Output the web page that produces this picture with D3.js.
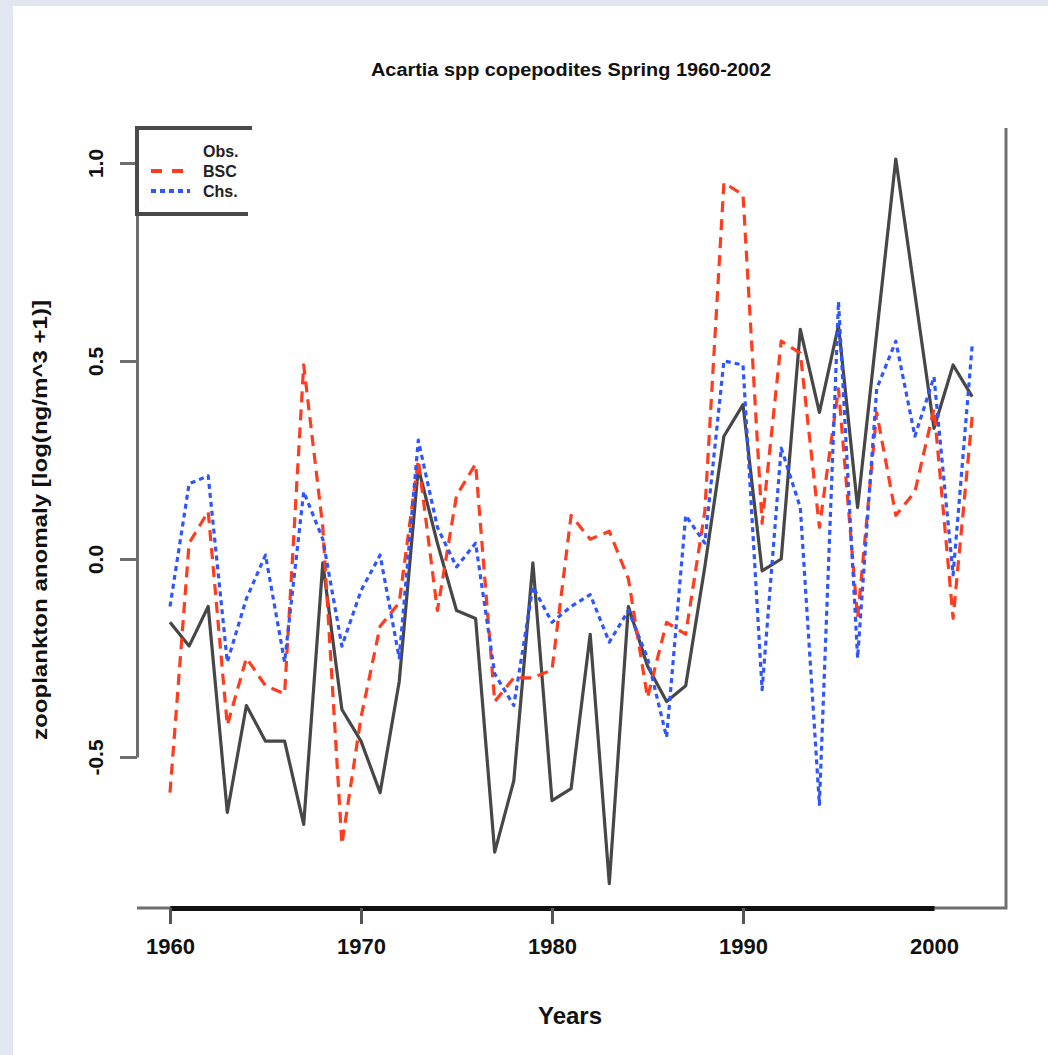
<!DOCTYPE html>
<meta charset="utf-8">
<script src="https://d3js.org/d3.v7.min.js"></script>
<style>
  body { margin: 0; background: #e2e6f0; }
  text { font-family: "Liberation Sans", Arial, sans-serif; font-weight: bold; }
</style>
<div id="my_dataviz"></div>
<script>

// years and the three anomaly series
var years = [1960, 1961, 1962, 1963, 1964, 1965, 1966, 1967, 1968, 1969,
             1970, 1971, 1972, 1973, 1974, 1975, 1976, 1977, 1978, 1979,
             1980, 1981, 1982, 1983, 1984, 1985, 1986, 1987, 1988, 1989,
             1990, 1991, 1992, 1993, 1994, 1995, 1996, 1997, 1998, 1999,
             2000, 2001, 2002];

var obs = [-0.16, -0.22, -0.12, -0.64, -0.37, -0.46, -0.46, -0.67, -0.01, -0.38,
           -0.46, -0.59, -0.31, 0.23, 0.04, -0.13, -0.15, -0.74, -0.56, -0.01,
           -0.61, -0.58, -0.19, -0.82, -0.12, -0.27, -0.36, -0.32, -0.02, 0.31,
           0.39, -0.03, 0.00, 0.58, 0.37, 0.59, 0.13, 0.57, 1.01, 0.67,
           0.33, 0.49, 0.41];

var bsc = [-0.59, 0.04, 0.12, -0.42, -0.25, -0.32, -0.34, 0.49, 0.08, -0.72,
           -0.40, -0.17, -0.11, 0.25, -0.13, 0.16, 0.24, -0.36, -0.30, -0.30,
           -0.28, 0.11, 0.05, 0.07, -0.05, -0.35, -0.16, -0.19, 0.12, 0.95,
           0.92, 0.09, 0.55, 0.52, 0.08, 0.43, -0.15, 0.37, 0.11, 0.17,
           0.38, -0.15, 0.36];

var chs = [-0.12, 0.19, 0.21, -0.26, -0.10, 0.01, -0.26, 0.17, 0.05, -0.22,
           -0.08, 0.01, -0.25, 0.30, 0.08, -0.02, 0.04, -0.29, -0.37, -0.07,
           -0.16, -0.12, -0.09, -0.21, -0.13, -0.25, -0.45, 0.11, 0.04, 0.50,
           0.49, -0.33, 0.28, 0.13, -0.62, 0.65, -0.25, 0.43, 0.55, 0.31,
           0.46, -0.04, 0.54];

var xTicks = [1960, 1970, 1980, 1990, 2000];
var yTicks = [-0.5, 0.0, 0.5, 1.0];

var legendLabels = ["Obs.", "BSC", "Chs."];

var width = 1048, height = 1055;

var svg = d3.select("#my_dataviz")
  .append("svg")
    .attr("width", width)
    .attr("height", height);

// white panel on the lavender page
svg.append("rect")
  .attr("x", 13).attr("y", 6)
  .attr("width", width - 13).attr("height", height - 6)
  .attr("fill", "white");

var x = d3.scaleLinear().domain([1960, 2000]).range([170, 934]);
var y = d3.scaleLinear().domain([-0.5, 1.0]).range([757, 163]);

var plotLeft = 137, plotRight = 1006, plotTop = 128, plotBottom = 908;

// box (bottom and right sides)
svg.append("path")
  .attr("d", "M" + plotLeft + "," + plotBottom + "H" + plotRight + "V" + plotTop)
  .attr("fill", "none")
  .attr("stroke", "#6e6e6e")
  .attr("stroke-width", 3);

// lines
var series = [
  {name: "obs", values: obs, color: "#474747", dash: null},
  {name: "bsc", values: bsc, color: "#ff3c1e", dash: "11,7"},
  {name: "chs", values: chs, color: "#2f55ff", dash: "5,4"}
];

var line = d3.line()
  .x(function(d) { return x(d[0]); })
  .y(function(d) { return y(d[1]); });

series.forEach(function(s) {
  svg.append("path")
    .datum(years.map(function(yr, i) { return [yr, s.values[i]]; }))
    .attr("fill", "none")
    .attr("stroke", s.color)
    .attr("stroke-width", 3.2)
    .attr("stroke-dasharray", s.dash)
    .attr("stroke-linejoin", "round")
    .attr("d", line);
});

// X axis
var xAxis = svg.append("g")
  .attr("transform", "translate(0," + plotBottom + ")")
  .call(d3.axisBottom(x).tickValues(xTicks).tickFormat(d3.format("d"))
        .tickSize(16).tickSizeOuter(0).tickPadding(14));
xAxis.select(".domain").attr("stroke", "#111").attr("stroke-width", 5);
xAxis.selectAll(".tick line").attr("stroke", "#555").attr("stroke-width", 3)
  .attr("opacity", function(d) { return d === 2000 ? 0 : 1; });
xAxis.selectAll(".tick text")
  .attr("fill", "#111")
  .style("font-size", "22px")
  .style("font-weight", "bold")
  .style("font-family", "Liberation Sans, Arial, sans-serif");

// Y axis
var yAxis = svg.append("g")
  .attr("transform", "translate(" + plotLeft + ",0)")
  .call(d3.axisLeft(y).tickValues(yTicks).tickFormat(function(d) { return d.toFixed(1); })
        .tickSize(17).tickSizeOuter(0).tickPadding(0));
yAxis.select(".domain").attr("stroke", "#6e6e6e").attr("stroke-width", 3);
yAxis.selectAll(".tick line").attr("stroke", "#6e6e6e").attr("stroke-width", 3);
yAxis.selectAll(".tick text")
  .attr("fill", "#111")
  .attr("x", null).attr("dy", null)
  .attr("text-anchor", "middle")
  .attr("transform", "translate(-41,0) rotate(-90)")
  .attr("dy", "0.35em")
  .style("font-size", "21px")
  .style("font-weight", "bold")
  .style("font-family", "Liberation Sans, Arial, sans-serif");

// legend box
var legend = svg.append("g");
legend.append("path")
  .attr("d", "M252," + plotTop + "H" + plotLeft + "V214H248")
  .attr("fill", "none")
  .attr("stroke", "#4a4a4a")
  .attr("stroke-width", 4);

series.forEach(function(s, i) {
  var ly = 151 + i * 20;
  if (s.dash) {
    legend.append("line")
      .attr("x1", 151).attr("x2", 190)
      .attr("y1", ly).attr("y2", ly)
      .attr("stroke", s.color)
      .attr("stroke-width", 4)
      .attr("stroke-dasharray", s.name === "bsc" ? "11,10" : "5,4");
  }
  legend.append("text")
    .attr("x", 203).attr("y", ly)
    .attr("dy", "0.35em")
    .attr("fill", "#222")
    .style("font-size", "16px")
    .text(legendLabels[i]);
});

// titles
svg.append("text")
  .attr("x", 571).attr("y", 76)
  .attr("text-anchor", "middle")
  .attr("fill", "#111")
  .attr("textLength", 400)
  .attr("lengthAdjust", "spacingAndGlyphs")
  .style("font-size", "18px")
  .text("Acartia spp copepodites Spring 1960-2002");

svg.append("text")
  .attr("x", 570).attr("y", 1024)
  .attr("text-anchor", "middle")
  .attr("fill", "#111")
  .style("font-size", "24px")
  .text("Years");

svg.append("text")
  .attr("transform", "translate(47,520) rotate(-90)")
  .attr("text-anchor", "middle")
  .attr("fill", "#111")
  .attr("textLength", 440)
  .attr("lengthAdjust", "spacingAndGlyphs")
  .style("font-size", "21px")
  .text("zooplankton anomaly [log(ng/m^3 +1)]");

</script>
